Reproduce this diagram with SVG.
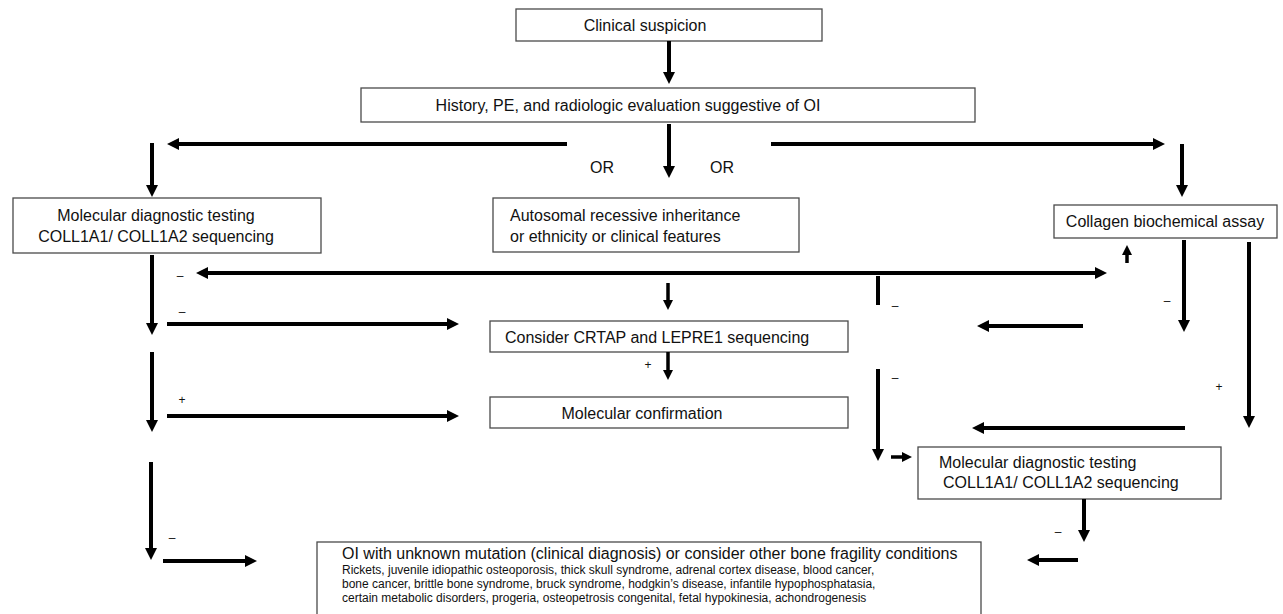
<svg xmlns="http://www.w3.org/2000/svg" width="1283" height="614" viewBox="0 0 1283 614">
<style>
.box{fill:#fff;stroke:#4a4a4a;stroke-width:1.3}
.t{font-family:"Liberation Sans",Arial,sans-serif;font-size:16px;fill:#111}
.s{font-family:"Liberation Sans",Arial,sans-serif;font-size:12px;fill:#111}
.l{font-family:"Liberation Sans",Arial,sans-serif;font-size:12px;fill:#111}
.c{stroke:#000;stroke-width:4;fill:none}
.cs{stroke:#000;stroke-width:3.5;fill:none}
</style>
<defs>
<marker id="ah" viewBox="0 0 12 12" refX="3" refY="6" markerWidth="12" markerHeight="12" markerUnits="userSpaceOnUse" orient="auto-start-reverse">
<path d="M0,0 L12,6 L0,12 z" fill="#000"/>
</marker>
<marker id="ahs" viewBox="0 0 10 10" refX="3" refY="5" markerWidth="10" markerHeight="10" markerUnits="userSpaceOnUse" orient="auto">
<path d="M0,0 L10,5 L0,10 z" fill="#000"/>
</marker>
</defs>
<rect width="1283" height="614" fill="#fff"/>

<g id="clinical"><rect class="box" x="516" y="9" width="306" height="32"/><text class="t" x="645" y="31" text-anchor="middle">Clinical suspicion</text></g>
<g id="history"><rect class="box" x="361" y="88" width="614" height="34"/><text class="t" x="628" y="111" text-anchor="middle">History, PE, and radiologic evaluation suggestive of OI</text></g>
<g id="mol1"><rect class="box" x="13" y="198" width="308" height="55"/><text class="t" x="156" y="221" text-anchor="middle">Molecular diagnostic testing</text><text class="t" x="156" y="242" text-anchor="middle">COLL1A1/ COLL1A2 sequencing</text></g>
<g id="autosomal"><rect class="box" x="493" y="198" width="306" height="54"/><text class="t" x="510" y="221">Autosomal recessive inheritance</text><text class="t" x="510" y="242">or ethnicity or clinical features</text></g>
<g id="collagen"><rect class="box" x="1054" y="205" width="223" height="33"/><text class="t" x="1165" y="227" text-anchor="middle">Collagen biochemical assay</text></g>
<g id="crtap"><rect class="box" x="490" y="321" width="358" height="31"/><text class="t" x="505" y="343">Consider CRTAP and LEPRE1 sequencing</text></g>
<g id="confirm"><rect class="box" x="490" y="397" width="358" height="31"/><text class="t" x="642" y="419" text-anchor="middle">Molecular confirmation</text></g>
<g id="mol2"><rect class="box" x="918" y="447" width="303" height="52"/><text class="t" x="939" y="468">Molecular diagnostic testing</text><text class="t" x="943" y="488">COLL1A1/ COLL1A2 sequencing</text></g>
<g id="unknown"><rect class="box" x="317" y="542" width="664" height="90"/>
<text class="t" x="342" y="559">OI with unknown mutation (clinical diagnosis) or consider other bone fragility conditions</text>
<text class="s" x="342" y="574">Rickets, juvenile idiopathic osteoporosis, thick skull syndrome, adrenal cortex disease, blood cancer,</text>
<text class="s" x="342" y="588">bone cancer, brittle bone syndrome, bruck syndrome, hodgkin’s disease, infantile hypophosphatasia,</text>
<text class="s" x="342" y="602">certain metabolic disorders, progeria, osteopetrosis congenital, fetal hypokinesia, achondrogenesis</text></g>

<g id="connectors">
<line class="c" x1="669" y1="41" x2="669" y2="75" marker-end="url(#ah)"/>
<line class="c" x1="669" y1="124" x2="669" y2="169" marker-end="url(#ah)"/>
<line class="c" x1="567" y1="144" x2="176" y2="144" marker-end="url(#ah)"/>
<line class="c" x1="152" y1="143" x2="152" y2="188" marker-end="url(#ah)"/>
<line class="c" x1="771" y1="144" x2="1156" y2="144" marker-end="url(#ah)"/>
<line class="c" x1="1182" y1="144" x2="1182" y2="188" marker-end="url(#ah)"/>
<line class="c" x1="205" y1="273" x2="1098" y2="273" marker-start="url(#ah)" marker-end="url(#ah)"/>
<line class="cs" x1="1127" y1="263" x2="1127" y2="252" marker-end="url(#ahs)"/>
<line class="cs" x1="668" y1="283" x2="668" y2="303" marker-end="url(#ahs)"/>
<line class="c" x1="878" y1="276" x2="878" y2="305"/>
<line class="c" x1="152" y1="255" x2="152" y2="326" marker-end="url(#ah)"/>
<line class="c" x1="167" y1="324" x2="450" y2="324" marker-end="url(#ah)"/>
<line class="c" x1="1083" y1="326" x2="986" y2="326" marker-end="url(#ah)"/>
<line class="c" x1="1184" y1="240" x2="1184" y2="323" marker-end="url(#ah)"/>
<line class="c" x1="1249" y1="242" x2="1249" y2="419" marker-end="url(#ah)"/>
<line class="cs" x1="668" y1="352" x2="668" y2="373" marker-end="url(#ahs)"/>
<line class="c" x1="152" y1="352" x2="152" y2="423" marker-end="url(#ah)"/>
<line class="c" x1="167" y1="416" x2="450" y2="416" marker-end="url(#ah)"/>
<line class="c" x1="878" y1="369" x2="878" y2="452" marker-end="url(#ah)"/>
<line class="c" x1="1185" y1="428" x2="981" y2="428" marker-end="url(#ah)"/>
<line class="cs" x1="891" y1="457" x2="905" y2="457" marker-end="url(#ahs)"/>
<line class="c" x1="1084" y1="499" x2="1084" y2="533" marker-end="url(#ah)"/>
<line class="c" x1="151" y1="462" x2="151" y2="551" marker-end="url(#ah)"/>
<line class="c" x1="163" y1="561" x2="248" y2="561" marker-end="url(#ah)"/>
<line class="c" x1="1078" y1="560" x2="1036" y2="560" marker-end="url(#ah)"/>
</g>

<g id="labels">
<text class="t" x="602" y="173" text-anchor="middle">OR</text>
<text class="t" x="722" y="173" text-anchor="middle">OR</text>
<text class="l" x="180" y="280" text-anchor="middle">–</text>
<text class="l" x="182" y="316" text-anchor="middle">–</text>
<text class="l" x="895" y="310" text-anchor="middle">–</text>
<text class="l" x="1167" y="305" text-anchor="middle">–</text>
<text class="l" x="895" y="382" text-anchor="middle">–</text>
<text class="l" x="1058" y="536" text-anchor="middle">–</text>
<text class="l" x="172" y="542" text-anchor="middle">–</text>
<text class="l" x="182" y="404" text-anchor="middle">+</text>
<text class="l" x="648" y="369" text-anchor="middle">+</text>
<text class="l" x="1219" y="391" text-anchor="middle">+</text>
</g>
</svg>
